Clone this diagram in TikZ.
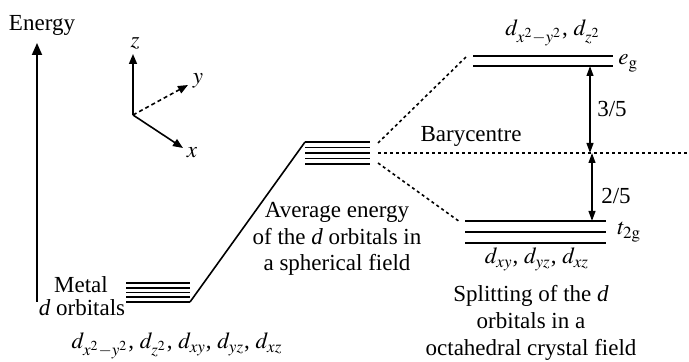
\documentclass[tikz,border=0pt]{standalone}
\usepackage{mathptmx}
\usepackage{fontspec}
\setmainfont{Liberation Serif}
\usepackage{tikz}
\usetikzlibrary{arrows.meta,positioning}
\tikzset{
  level/.style={line width=0.9pt},
  axisline/.style={line width=0.8pt,-{Triangle[length=5pt,width=4pt]}},
  gaparrow/.style={line width=0.8pt,{Triangle[length=5pt,width=3.4pt]}-{Triangle[length=5pt,width=3.4pt]}},
  splitline/.style={line width=0.8pt,dash pattern=on 1.5pt off 1.5pt},
  lbl/.style={font=\fontsize{11.5}{13}\selectfont,inner sep=0pt,anchor=base}
}

\begin{document}
\begin{tikzpicture}[x=0.5pt,y=-0.5pt]
\useasboundingbox (0,0) rectangle (689,362);

\coordinate (e0) at (37,302);
\coordinate (e1) at (37,43);
\draw[line width=0.9pt,-{Triangle[length=6pt,width=5pt]}] (e0) -- (e1);
\node[lbl] (energy) at (42,31) {Energy};

\coordinate (o) at (133,115);
\coordinate (zt) at (133,54);
\coordinate (yt) at (188,85);
\coordinate (xt) at (183,148);
\draw[axisline] (o) -- (zt);
\draw[axisline,dash pattern=on 2pt off 1.5pt] (o) -- (yt);
\draw[axisline] (o) -- (xt);
\node[lbl] (zl) at (135,48) {$z$};
\node[lbl] (yl) at (198,84) {$y$};
\node[lbl] (xl) at (192,158) {$x$};

\foreach \i in {0,...,4}{
  \coordinate (m\i L) at (126,{283+4.75*\i});
  \coordinate (m\i R) at (190,{283+4.75*\i});
  \draw[level] (m\i L) -- (m\i R);
  \coordinate (a\i L) at (305,{142+5.5*\i});
  \coordinate (a\i R) at (370,{142+5.5*\i});
  \draw[level] (a\i L) -- (a\i R);
}
\draw[line width=0.8pt] (m4R) -- (a0L);

\foreach \i/\y in {0/56,1/66}{
  \coordinate (eg\i L) at (473,\y);
  \coordinate (eg\i R) at (613,\y);
  \draw[level] (eg\i L) -- (eg\i R);
}
\foreach \i/\y in {0/221,1/232,2/243}{
  \coordinate (tg\i L) at (465,\y);
  \coordinate (tg\i R) at (606,\y);
  \draw[level] (tg\i L) -- (tg\i R);
}

\coordinate (up0) at (378,143);
\coordinate (up1) at (467,56);
\coordinate (dn0) at (378,163);
\coordinate (dn1) at (460,222);
\coordinate (bc0) at (378,153);
\coordinate (bc1) at (689,153);
\draw[splitline] (up0) -- (up1);
\draw[splitline] (dn0) -- (dn1);
\draw[splitline] (bc0) -- (bc1);

\coordinate (g0) at (590,66);
\coordinate (g1) at (590,153);
\coordinate (g2) at (592,153);
\coordinate (g3) at (592,221);
\draw[gaparrow] (g0) -- (g1);
\draw[gaparrow] (g2) -- (g3);
\node[lbl] (three) at (612,117) {3/5};
\node[lbl] (two) at (616,204) {2/5};
\node[lbl] (bary) at (471,142) {Barycentre};

\node[lbl] (metal) at (81,293) {Metal};
\node[lbl] (dorb) at (82,316) {\textit{d} orbitals};
\node[lbl] (mlist) at (177,349) {$d_{x^2-y^2}$, $d_{z^2}$, $d_{xy}$, $d_{yz}$, $d_{xz}$};
\node[lbl] (eglist) at (553,36) {$d_{x^2-y^2}$, $d_{z^2}$};
\node[lbl] (tglist) at (537,264) {$d_{xy}$, $d_{yz}$, $d_{xz}$};
\node[lbl,anchor=base west] (eg) at (618,65) {$e_{\mathrm{g}}$};
\node[lbl,anchor=base west] (tg) at (617,235) {$t_{2\mathrm{g}}$};

\foreach \t [count=\k] in {Average energy,of the \textit{d} orbitals in,a spherical field}
  \node[lbl] (avg\k) at (337,{218+26.5*(\k-1)}) {\t};
\foreach \t [count=\k] in {Splitting of the \textit{d},orbitals in a,octahedral crystal field}
  \node[lbl] (spl\k) at (531,{302+27*(\k-1)}) {\t};
\end{tikzpicture}
\end{document}
